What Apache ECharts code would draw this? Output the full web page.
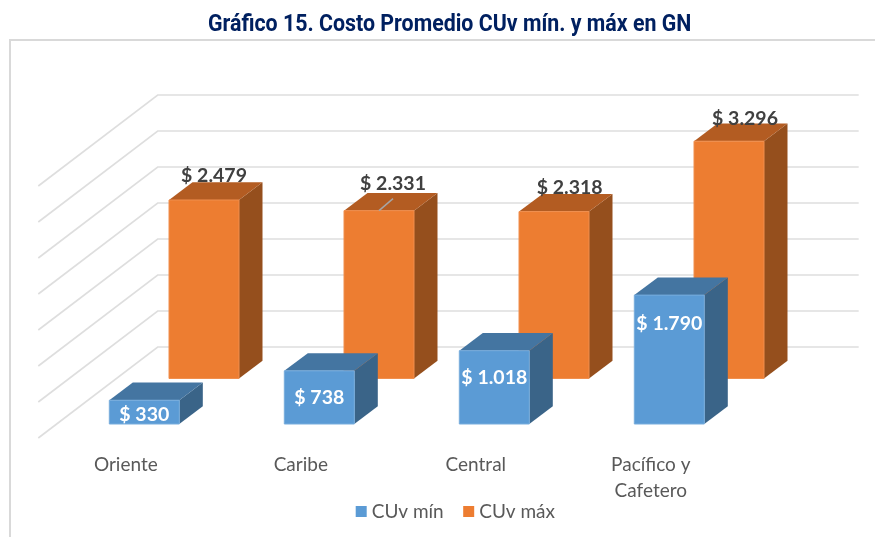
<!DOCTYPE html>
<html>
<head>
<meta charset="utf-8">
<style>html,body{margin:0;padding:0;background:#fff}#c{width:875px;height:537px}</style>
<script src="https://cdn.jsdelivr.net/npm/echarts@6/dist/echarts.min.js"></script>
</head>
<body>
<div id="c"></div>
<script>
const categories = ['Oriente', 'Caribe', 'Central', 'Pacífico y\nCafetero'];
const cuvMin = [330, 738, 1018, 1790];
const cuvMax = [2479, 2331, 2318, 3296];
const yTicks = [0, 500, 1000, 1500, 2000, 2500, 3000, 3500];
const titleText = 'Gráfico 15. Costo Promedio CUv mín. y máx en GN';

// 3D projection: screen shift for each depth plane
const planeFront = {dx: 18.5, dy: -14};
const planeBack = {dx: 78.2, dy: -59.5};
const planeWall = {dx: 119.4, dy: -91};
const barW = 70, depthX = 23.5, depthY = 17.7;
// hand-placed label nudges, as in the original chart
const minLabelDy = [3, 0, -10, -36];
const maxLabelNudge = [[10, -24], [14, -26.6], [15.7, -24], [16, -22.7]];

const chart = echarts.init(document.getElementById('c'), null, {renderer: 'canvas'});

function bar(plane, colors, labelFn) {
  return function (params, api) {
    const i = api.value(0), v = api.value(1);
    const base = api.coord([i, 0]), top = api.coord([i, v]);
    const l = base[0] + plane.dx - barW / 2, r = l + barW;
    const yb = base[1] + plane.dy, yt = top[1] + plane.dy;
    const kids = [
      {type: 'polygon', shape: {points: [[r, yt], [r + depthX, yt - depthY], [r + depthX, yb - depthY], [r, yb]]}, style: {fill: colors.side}},
      {type: 'polygon', shape: {points: [[l, yt], [r, yt], [r + depthX, yt - depthY], [l + depthX, yt - depthY]]}, style: {fill: colors.top}},
      {type: 'rect', shape: {x: l, y: yt, width: barW, height: yb - yt}, style: {fill: colors.front, stroke: colors.edge, lineWidth: 1}}
    ];
    return {type: 'group', children: kids.concat(labelFn(i, v, l + barW / 2, yt, yb))};
  };
}
const money = v => '$ ' + (v >= 1000 ? Math.floor(v / 1000) + '.' + String(v % 1000).padStart(3, '0') : v);
const labelFont = '700 19.5px Lato';

chart.setOption({
  animation: false,
  legend: {
    data: ['CUv mín', 'CUv máx'],
    left: 350.7, top: 497, itemWidth: 11, itemHeight: 11, itemGap: 19.5,
    icon: 'rect',
    textStyle: {fontFamily: 'Lato', fontSize: 19, color: '#595959'}
  },
  graphic: [
    {type: 'rect', z: -1, shape: {x: 10, y: 40, width: 900, height: 600}, style: {fill: '#fff', stroke: '#D9D9D9', lineWidth: 2}},
    {type: 'text', x: 208, y: 25, scaleX: 0.89, style: {text: titleText, font: '700 24px Roboto', fill: '#002060', verticalAlign: 'middle', align: 'left'}}
  ],
  grid: {left: 38.3, right: 136.7, top: 186, bottom: 99},
  xAxis: {
    type: 'category', data: categories,
    axisLine: {show: false}, axisTick: {show: false},
    axisLabel: {fontFamily: 'Lato', fontSize: 19, color: '#595959', lineHeight: 26, margin: 14, interval: 0}
  },
  yAxis: {
    type: 'value', min: 0, max: 3500, interval: 500,
    axisLine: {show: false}, axisTick: {show: false}, axisLabel: {show: false}, splitLine: {show: false}
  },
  series: [
    {
      type: 'custom', name: 'walls', silent: true, clip: false,
      data: yTicks.map(t => [0, t]),
      encode: {x: 0, y: 1},
      renderItem(params, api) {
        const t = api.value(1);
        const a = api.coord([0, t]);
        const leftX = params.coordSys.x, rightX = params.coordSys.x + params.coordSys.width;
        return {
          type: 'polyline',
          shape: {points: [[leftX, a[1]], [leftX + planeWall.dx, a[1] + planeWall.dy], [rightX + planeWall.dx + 1, a[1] + planeWall.dy]]},
          style: {stroke: '#DEDEDE', lineWidth: 1.6, fill: null}
        };
      }
    },
    {
      type: 'custom', name: 'CUv máx', clip: false,
      itemStyle: {color: '#ED7D31'},
      data: cuvMax.map((v, i) => [i, v]),
      encode: {x: 0, y: 1},
      renderItem: bar(planeBack, {front: '#ED7D31', top: '#B35C22', side: '#954F1D', edge: '#F08F4E'}, (i, v, cx, yt) => {
        const n = maxLabelNudge[i];
        const out = [{type: 'text', style: {text: money(v), x: cx + n[0], y: yt + n[1], align: 'center', verticalAlign: 'middle', font: labelFont, fill: '#404040'}}];
        if (i === 1) out.push({type: 'line', shape: {x1: cx, y1: yt, x2: cx + 14, y2: yt - 12}, style: {stroke: '#A6A6A6', lineWidth: 1.5}});
        return out;
      })
    },
    {
      type: 'custom', name: 'CUv mín', clip: false,
      itemStyle: {color: '#5B9BD5'},
      data: cuvMin.map((v, i) => [i, v]),
      encode: {x: 0, y: 1},
      renderItem: bar(planeFront, {front: '#5B9BD5', top: '#4475A1', side: '#3A6488', edge: '#78ADDD'}, (i, v, cx, yt, yb) => [
        {type: 'text', style: {text: money(v), x: cx, y: (yt + yb) / 2 + minLabelDy[i], align: 'center', verticalAlign: 'middle', font: labelFont, fill: '#FFFFFF'}}
      ])
    }
  ]
});
</script>
</body>
</html>
